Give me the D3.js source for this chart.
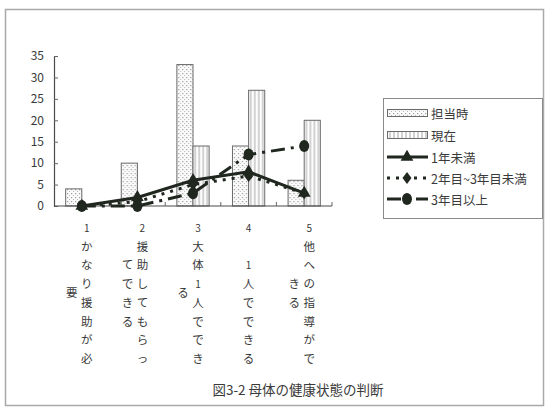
<!DOCTYPE html>
<html>
<head>
<meta charset="utf-8">
<script src="https://cdn.jsdelivr.net/npm/d3@7"></script>
<style>
  html, body { margin: 0; padding: 0; background: #fff; }
  svg { display: block; }
  text { font-family: "Noto Sans CJK JP", "Liberation Sans", sans-serif; fill: #3a3a3a; }
</style>
</head>
<body>
<svg id="chart" width="545" height="409"></svg>
<script>
// Categories: numbered answer labels, written vertically (split into columns)
const categories = ["1", "2", "3", "4", "5"];
const categoryColumns = [
  ["1かなり援助が必", "要"],
  ["2援助してもらっ", "てできる"],
  ["3大体1人ででき", "る"],
  ["4 1人でできる"],
  ["5他への指導がで", "きる"]
];

// Bar series
const barSeries = ["担当時", "現在"];
const valuesTantouji = [4, 10, 33, 14, 6];
const valuesGenzai   = [0, 0, 14, 27, 20];

// Line series
const lineSeries = ["1年未満", "2年目~3年目未満", "3年目以上"];
const values1nen     = [0, 2, 6, 8, 3];
const values2to3nen  = [0, 1, 5, 7, 3];
const values3nenUp   = [0, 0, 3, 12, 14];

const yTicks = [0, 5, 10, 15, 20, 25, 30, 35];
const chartTitle = "図3-2 母体の健康状態の判断";

const svg = d3.select("#chart");
const defs = svg.append("defs");

// Dotted fill for 担当時
const pDot = defs.append("pattern").attr("id", "pDot")
  .attr("patternUnits", "userSpaceOnUse").attr("width", 4).attr("height", 4);
pDot.append("rect").attr("width", 4).attr("height", 4).attr("fill", "#fbfbfb");
pDot.append("rect").attr("x", 1).attr("y", 1).attr("width", 1.2).attr("height", 1.2).attr("fill", "#9a9a9a");
pDot.append("rect").attr("x", 3).attr("y", 3).attr("width", 1.2).attr("height", 1.2).attr("fill", "#b5b5b5");

// Vertical stripe fill for 現在
const pStripe = defs.append("pattern").attr("id", "pStripe")
  .attr("patternUnits", "userSpaceOnUse").attr("width", 4).attr("height", 4);
pStripe.append("rect").attr("width", 4).attr("height", 4).attr("fill", "#fdfdfd");
pStripe.append("rect").attr("x", 1.5).attr("width", 1).attr("height", 4).attr("fill", "#a8a8a8");

// Outer frame
svg.append("rect").attr("x", 5.5).attr("y", 9.5).attr("width", 538).attr("height", 396)
  .attr("fill", "none").attr("stroke", "#a9a9a9").attr("stroke-width", 1.5);

const plot = { left: 54, right: 332, top: 56, bottom: 206 };

const x0 = d3.scaleBand().domain(categories).range([plot.left, plot.right]).padding(0);
const bw = x0.bandwidth();
const x1 = d3.scaleBand().domain(barSeries).range([bw * 0.21, bw * 0.79]).padding(0);
const y = d3.scaleLinear().domain([0, 35]).range([plot.bottom, plot.top]);

// Bars
const barData = categories.map((c, i) => ({ c, vals: [valuesTantouji[i], valuesGenzai[i]] }));
const groups = svg.append("g").selectAll("g").data(barData).join("g")
  .attr("transform", d => `translate(${x0(d.c)},0)`);
groups.selectAll("rect").data(d => d.vals.map((v, k) => ({ s: barSeries[k], v })))
  .join("rect")
  .attr("x", d => x1(d.s))
  .attr("width", x1.bandwidth())
  .attr("y", d => y(d.v))
  .attr("height", d => y(0) - y(d.v))
  .attr("fill", d => d.s === "担当時" ? "url(#pDot)" : "url(#pStripe)")
  .attr("stroke", "#6a6a6a").attr("stroke-width", 1)
  .attr("display", d => d.v > 0 ? null : "none");

// Y axis
const yAxis = d3.axisLeft(y).tickValues(yTicks).tickSize(0).tickPadding(10);
const gy = svg.append("g").attr("transform", `translate(${plot.left},0)`).call(yAxis);
gy.select(".domain").attr("stroke", "#4a4a4a").attr("stroke-width", 1.2);
gy.selectAll(".tick text").attr("font-size", 12).attr("fill", "#555")
  .attr("font-family", "'Liberation Sans Narrow', 'Liberation Sans', sans-serif");
gy.selectAll(".tick").append("line").attr("x1", 0).attr("x2", 4).attr("stroke", "#666");

// X axis line with upward boundary ticks
const gx = svg.append("g").attr("transform", `translate(0,${plot.bottom})`);
gx.append("line").attr("x1", plot.left).attr("x2", plot.right)
  .attr("stroke", "#4a4a4a").attr("stroke-width", 1.2);
gx.selectAll("line.tk").data(categories).join("line").attr("class", "tk")
  .attr("x1", d => x0(d) + bw).attr("x2", d => x0(d) + bw)
  .attr("y1", 0).attr("y2", -4).attr("stroke", "#666");

// Vertical category labels
const charStep = 18.7, charTop = 227;
categoryColumns.forEach((cols, i) => {
  const cx = x0(categories[i]) + bw / 2;
  const g = svg.append("g");
  const first = Array.from(cols[0]);
  const colH = (first.length - 1) * charStep;
  cols.forEach((colText, k) => {
    const chars = Array.from(colText);
    const colX = cols.length === 1 ? cx : (k === 0 ? cx + 5 : cx - 10);
    const h = (chars.length - 1) * charStep;
    const startY = charTop + (colH - h) / 2;
    chars.forEach((ch, j) => {
      if (ch === " ") return;
      const isDigit = /[0-9]/.test(ch);
      g.append("text")
        .attr("x", colX).attr("y", startY + j * charStep)
        .attr("text-anchor", "middle").attr("dominant-baseline", "central")
        .attr("font-size", isDigit ? 10 : 11.5)
        .attr("fill", "#444")
        .text(ch);
    });
  });
});

// Lines
const lineColor = "#1f271f";
const lineDefs = [
  { name: lineSeries[0], vals: values1nen,    dash: null,        marker: "triangle" },
  { name: lineSeries[1], vals: values2to3nen, dash: "3,6",       marker: "diamond" },
  { name: lineSeries[2], vals: values3nenUp,  dash: "14,6,3,6",  marker: "circle" }
];
const line = d3.line().x((v, i) => x0(categories[i]) + bw / 2).y(v => y(v));

function drawMarker(g, type, cx, cy) {
  if (type === "triangle") {
    g.append("path").attr("d", d3.symbol(d3.symbolTriangle, 70)())
      .attr("transform", `translate(${cx},${cy})`).attr("fill", lineColor);
  } else if (type === "diamond") {
    g.append("path").attr("d", "M0,-6L4.5,0L0,6L-4.5,0Z")
      .attr("transform", `translate(${cx},${cy})`).attr("fill", lineColor);
  } else {
    g.append("ellipse").attr("cx", cx).attr("cy", cy).attr("rx", 5).attr("ry", 6)
      .attr("fill", lineColor);
  }
}

// draw in reverse so the solid series sits on top
lineDefs.slice().reverse().forEach(s => {
  const g = svg.append("g");
  g.append("path").attr("d", line(s.vals)).attr("fill", "none")
    .attr("stroke", lineColor).attr("stroke-width", 3)
    .attr("stroke-dasharray", s.dash);
  s.vals.forEach((v, i) => drawMarker(g, s.marker, x0(categories[i]) + bw / 2, y(v)));
});

// Legend
const lg = svg.append("g");
lg.append("rect").attr("x", 383.5).attr("y", 98.5).attr("width", 159).attr("height", 120)
  .attr("fill", "#fff").attr("stroke", "#8a8a8a").attr("stroke-width", 1);
const legendRows = [113, 135, 157, 178, 199];
const legendItems = [
  { label: barSeries[0], kind: "bar", fill: "url(#pDot)" },
  { label: barSeries[1], kind: "bar", fill: "url(#pStripe)" },
  { label: lineSeries[0], kind: "line", s: lineDefs[0] },
  { label: lineSeries[1], kind: "line", s: lineDefs[1] },
  { label: lineSeries[2], kind: "line", s: lineDefs[2] }
];
legendItems.forEach((it, i) => {
  const ly = legendRows[i];
  if (it.kind === "bar") {
    lg.append("rect").attr("x", 387.5).attr("y", ly - 3.5).attr("width", 40).attr("height", 7)
      .attr("fill", it.fill).attr("stroke", "#6a6a6a").attr("stroke-width", 1);
  } else {
    lg.append("line").attr("x1", 387).attr("x2", 428).attr("y1", ly).attr("y2", ly)
      .attr("stroke", lineColor).attr("stroke-width", 3)
      .attr("stroke-dasharray", it.s.dash);
    drawMarker(lg, it.s.marker, 407, ly);
  }
  lg.append("text").attr("x", 431).attr("y", ly).attr("dominant-baseline", "central")
    .attr("font-size", 12.5).attr("fill", "#3a3a3a").text(it.label);
});

// Title
svg.append("text").attr("x", 298).attr("y", 389).attr("text-anchor", "middle")
  .attr("dominant-baseline", "central").attr("font-size", 13.5).attr("fill", "#3a3a3a")
  .text(chartTitle);
</script>
</body>
</html>
